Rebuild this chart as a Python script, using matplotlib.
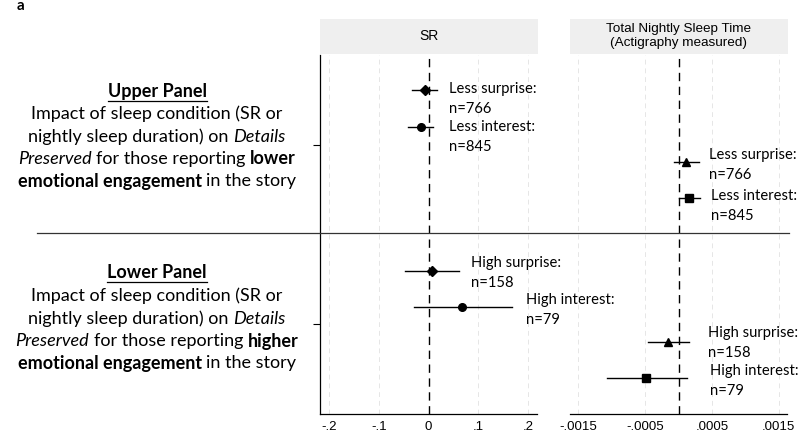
import matplotlib
matplotlib.use("Agg")
import matplotlib.pyplot as plt
from matplotlib.patches import Rectangle
from matplotlib.lines import Line2D

# ---------------- data ----------------
groups = ["Less surprise", "Less interest", "High surprise", "High interest"]
n_values = [766, 845, 158, 79]
panel_of_group = [0, 0, 1, 1]  # 0 = upper panel, 1 = lower panel

sr_est = [-0.008, -0.016, 0.007, 0.068]
sr_lo = [-0.034, -0.042, -0.048, -0.030]
sr_hi = [0.018, 0.010, 0.062, 0.168]

tst_est = [0.00011, 0.00016, -0.00016, -0.00049]
tst_lo = [-0.00007, 0.0, -0.00046, -0.00107]
tst_hi = [0.00030, 0.00032, 0.00016, 0.00013]

sr_ticks = [-0.2, -0.1, 0, 0.1, 0.2]
sr_ticklabels = ["-.2", "-.1", "0", ".1", ".2"]
tst_ticks = [-0.0015, -0.0005, 0.0005, 0.0015]
tst_ticklabels = ["-.0015", "-.0005", ".0005", ".0015"]

panel_titles = ["SR", "Total Nightly Sleep Time\n(Actigraphy measured)"]

# ---------------- styling / layout ----------------
W, H = 800, 433
fig = plt.figure(figsize=(W / 100, H / 100), dpi=100)

def fx(px):
    return px / W

def fy(py):
    return 1 - py / H

sr_offsets = [-0.307, -0.10, -0.296, -0.095]
tst_offsets = [0.095, 0.296, 0.10, 0.30]
sr_markers = ["D", "o", "D", "o"]
tst_markers = ["^", "s", "^", "s"]
marker_sizes = {"D": 5.0, "o": 5.5, "^": 6.0, "s": 5.5}
sr_label_off = [(24, 1), (28, 0), (39, 8), (64, 7)]
tst_label_off = [(23, 7), (22, 2), (40, 9), (64, 7)]

ANN_FONT = "Lato"
TICK_FONT = "Liberation Sans"

axes_px = [(320, 537), (570, 787)]
ytop, ybot = 55, 414
xlims = [(-0.218, 0.218), (-0.001627, 0.001627)]

def make_axes(i):
    x0, x1 = axes_px[i]
    ax = fig.add_axes([fx(x0), fy(ybot), (x1 - x0) / W, (ybot - ytop) / H])
    ax.set_xlim(*xlims[i])
    ax.set_ylim(1.503, -0.503)
    for s in ["top", "right"]:
        ax.spines[s].set_visible(False)
    ax.spines["bottom"].set_linewidth(0.9)
    if i == 0:
        ax.spines["left"].set_linewidth(0.9)
        ax.set_yticks([0, 1])
        ax.set_yticklabels(["", ""])
        ax.tick_params(axis="y", length=5, width=0.8)
    else:
        ax.spines["left"].set_visible(False)
        ax.set_yticks([])
    ax.patch.set_alpha(0)
    # header box
    fig.patches.append(Rectangle((fx(x0), fy(54)), (x1 - x0 + 1) / W, 35 / H,
                                 transform=fig.transFigure, facecolor="#efefef",
                                 edgecolor="none", zorder=0))
    fig.text(fx((x0 + x1) / 2), fy(36), panel_titles[i], ha="center", va="center",
             fontsize=10 if i == 0 else 9.7, family=TICK_FONT, linespacing=1.15)
    return ax

ax_sr = make_axes(0)
ax_tst = make_axes(1)

def draw(ax, est, lo, hi, offsets, markers, label_off, ticks, ticklabels):
    ax.set_xticks(ticks)
    ax.set_xticklabels(ticklabels, family=TICK_FONT, fontsize=9.5)
    ax.tick_params(axis="x", length=0, pad=5)
    for t in ticks:
        if t != 0:
            ax.axvline(t, color="#e6e6e6", lw=0.7, ls=(0, (5, 4)), zorder=0)
    ax.axvline(0, color="black", lw=1.0, ls=(0, (6, 4)), zorder=1)
    for k in range(len(est)):
        y = panel_of_group[k] + offsets[k]
        ax.plot([lo[k], hi[k]], [y, y], color="black", lw=1.0, zorder=2)
        ax.plot([est[k]], [y], marker=markers[k], color="black", ms=marker_sizes[markers[k]],
                ls="none", zorder=3)
        dx, dy = label_off[k]
        ax.annotate(f"{groups[k]}:", xy=(est[k], y), xytext=(dx, dy), textcoords="offset pixels",
                    ha="left", va="center", fontsize=10.6, family=ANN_FONT, annotation_clip=False,
                    zorder=5)
        ax.annotate(f"n={n_values[k]}", xy=(est[k], y), xytext=(dx, dy - 20), textcoords="offset pixels",
                    ha="left", va="center", fontsize=10.6, family=ANN_FONT, annotation_clip=False,
                    zorder=5)

draw(ax_sr, sr_est, sr_lo, sr_hi, sr_offsets, sr_markers, sr_label_off, sr_ticks, sr_ticklabels)
draw(ax_tst, tst_est, tst_lo, tst_hi, tst_offsets, tst_markers, tst_label_off, tst_ticks, tst_ticklabels)

# horizontal divider across the figure
fig.add_artist(Line2D([fx(37), fx(789)], [fy(233), fy(233)], transform=fig.transFigure,
                      color="#333333", lw=0.9))

# panel letter
fig.text(fx(17), fy(6), "a", fontsize=11, weight="bold", family="Lato", ha="left", va="center")

# ---------------- rich left text ----------------
fig.canvas.draw()
renderer = fig.canvas.get_renderer()
LEFT_FONT = "Lato"
LS = 13

def width_of(txt, weight, style):
    t = fig.text(0, 0, txt, fontsize=LS, family=LEFT_FONT, weight=weight, style=style)
    w = t.get_window_extent(renderer).width
    t.remove()
    return w

space_w = width_of("a a", "normal", "normal") - width_of("aa", "normal", "normal")

def rich_line(cx, ypx, segs, underline=False):
    widths = [width_of(s, w, st) for s, w, st in segs]
    total = sum(widths) + space_w * (len(segs) - 1)
    x = cx - total / 2
    for (s, w, st), wd in zip(segs, widths):
        fig.text(fx(x), fy(ypx), s, fontsize=LS, family=LEFT_FONT, weight=w, style=st,
                 ha="left", va="center")
        x += wd + space_w
    if underline:
        fig.add_artist(Line2D([fx(cx - total / 2), fx(cx + total / 2)], [fy(ypx + 8.5), fy(ypx + 8.5)],
                              transform=fig.transFigure, color="black", lw=0.9))

N, B, I = "normal", "bold", "italic"
for ys, word in [((92, 114, 137, 159, 181), ("lower", "Upper Panel")),
                 ((273, 296, 319, 341, 363), ("higher", "Lower Panel"))]:
    cx = 157
    rich_line(cx, ys[0], [(word[1], B, N)], underline=True)
    rich_line(cx, ys[1], [("Impact of sleep condition (SR or", N, N)])
    rich_line(cx, ys[2], [("nightly sleep duration) on", N, N), ("Details", N, I)])
    rich_line(cx, ys[3], [("Preserved", N, I), ("for those reporting", N, N), (word[0], B, N)])
    rich_line(cx, ys[4], [("emotional engagement", B, N), ("in the story", N, N)])

fig.savefig("out.png", dpi=100)
